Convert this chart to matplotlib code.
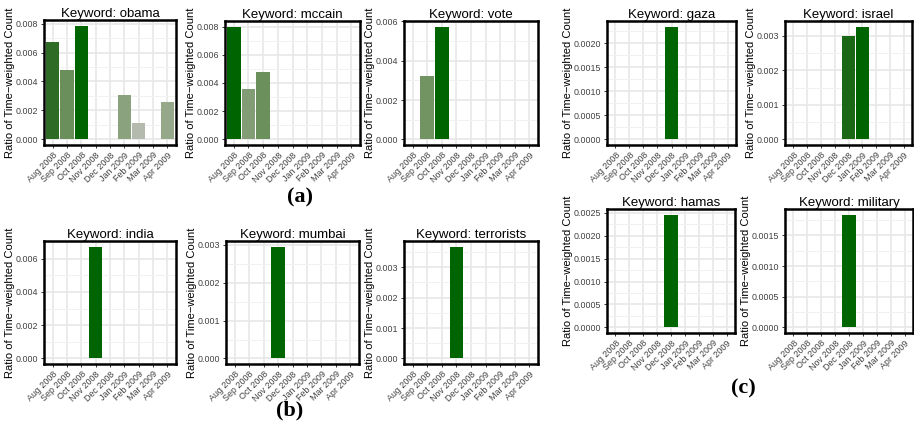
import matplotlib
matplotlib.use('Agg')
import matplotlib.pyplot as plt
import matplotlib.ticker as ticker
from matplotlib.colors import LinearSegmentedColormap

months = ['Aug 2008', 'Sep 2008', 'Oct 2008', 'Nov 2008', 'Dec 2008',
          'Jan 2009', 'Feb 2009', 'Mar 2009', 'Apr 2009']

obama = [0.00673, 0.00481, 0.00786, 0, 0, 0.00308, 0.00113, 0, 0.00259]
mccain = [0.00800, 0.00357, 0.00478, 0, 0, 0, 0, 0, 0]
vote = [0, 0.00320, 0.00573, 0, 0, 0, 0, 0, 0]
gaza = [0, 0, 0, 0, 0.002345, 0, 0, 0, 0]
israel = [0, 0, 0, 0, 0.00301, 0.00327, 0, 0, 0]
india = [0, 0, 0, 0.00673, 0, 0, 0, 0, 0]
mumbai = [0, 0, 0, 0.002957, 0, 0, 0, 0, 0]
terrorists = [0, 0, 0, 0.00368, 0, 0, 0, 0, 0]
hamas = [0, 0, 0, 0, 0.002464, 0, 0, 0, 0]
military = [0, 0, 0, 0, 0.00184, 0, 0, 0, 0]

# keyword -> (values, major tick step, tick label format)
panels = {
  'obama': (obama, 0.002, '%.3f'),
  'mccain': (mccain, 0.002, '%.3f'),
  'vote': (vote, 0.002, '%.3f'),
  'gaza': (gaza, 0.0005, '%.4f'),
  'israel': (israel, 0.001, '%.3f'),
  'india': (india, 0.002, '%.3f'),
  'mumbai': (mumbai, 0.001, '%.3f'),
  'terrorists': (terrorists, 0.001, '%.3f'),
  'hamas': (hamas, 0.0005, '%.4f'),
  'military': (military, 0.0005, '%.4f'),
}

# axes boxes in pixels: left, top, right, bottom
boxes = {
  'obama': (44, 20, 176, 145),
  'mccain': (225, 21, 360, 145),
  'vote': (404, 21, 538, 145),
  'gaza': (607, 21, 736, 145),
  'israel': (785, 21, 912, 145),
  'india': (44, 241, 176, 364),
  'mumbai': (226, 241, 359, 364),
  'terrorists': (404, 241, 538, 364),
  'hamas': (607, 209, 735, 333),
  'military': (785, 209, 913, 333),
}

W, H = 914, 428
fill = LinearSegmentedColormap.from_list('fill', [
  (0.0, '#c2c2c2'), (0.15, '#b4b9ad'), (0.39, '#8aa27e'),
  (0.61, '#6a8f5a'), (0.86, '#2e6b25'), (1.0, '#006400')])

plt.rcParams['font.family'] = ['Liberation Sans', 'DejaVu Sans']
fig = plt.figure(figsize=(W / 100, H / 100), dpi=100)

for name, (vals, step, fmt) in panels.items():
  l, t, r, b = boxes[name]
  ax = fig.add_axes([l / W, 1 - b / H, (r - l) / W, (b - t) / H])
  top = max(vals)
  xs = [i for i, v in enumerate(vals) if v > 0]
  ax.bar(xs, [vals[i] for i in xs], width=0.94,
         color=[fill(vals[i] / top) for i in xs], zorder=2)
  ax.set_xlim(-0.6, 8.6)
  ax.set_ylim(-0.05 * top, 1.05 * top)
  ax.set_xticks(range(len(months)))
  ax.set_xticklabels(months, rotation=45, ha='right', rotation_mode='anchor')
  ax.yaxis.set_major_locator(ticker.MultipleLocator(step))
  ax.yaxis.set_minor_locator(ticker.MultipleLocator(step / 2))
  ax.yaxis.set_major_formatter(ticker.FormatStrFormatter(fmt))
  ax.grid(True, which='major', color='#e6e6e6', linewidth=1.1, zorder=0)
  ax.grid(True, which='minor', axis='y', color='#f2f2f2', linewidth=0.7, zorder=0)
  ax.set_axisbelow(True)
  ax.tick_params(axis='both', which='major', length=2.5, width=0.7,
                 color='#333333', labelsize=6.4, labelcolor='#404040', pad=1.5)
  ax.tick_params(axis='y', which='minor', length=0)
  for sp in ax.spines.values():
    sp.set_linewidth(1.8)
    sp.set_color('black')
  ax.set_title(f'Keyword: {name}', fontsize=9.5, pad=2)
  ax.set_ylabel('Ratio of Time\u2212weighted Count', fontsize=8.0, labelpad=1)

for txt, x, y in (('(a)', 300, 197), ('(b)', 290, 410), ('(c)', 743, 388)):
  fig.text(x / W, 1 - y / H, txt, ha='center', va='center', fontsize=16,
           fontweight='bold', family='Liberation Serif')

fig.savefig('out.png', dpi=100)
